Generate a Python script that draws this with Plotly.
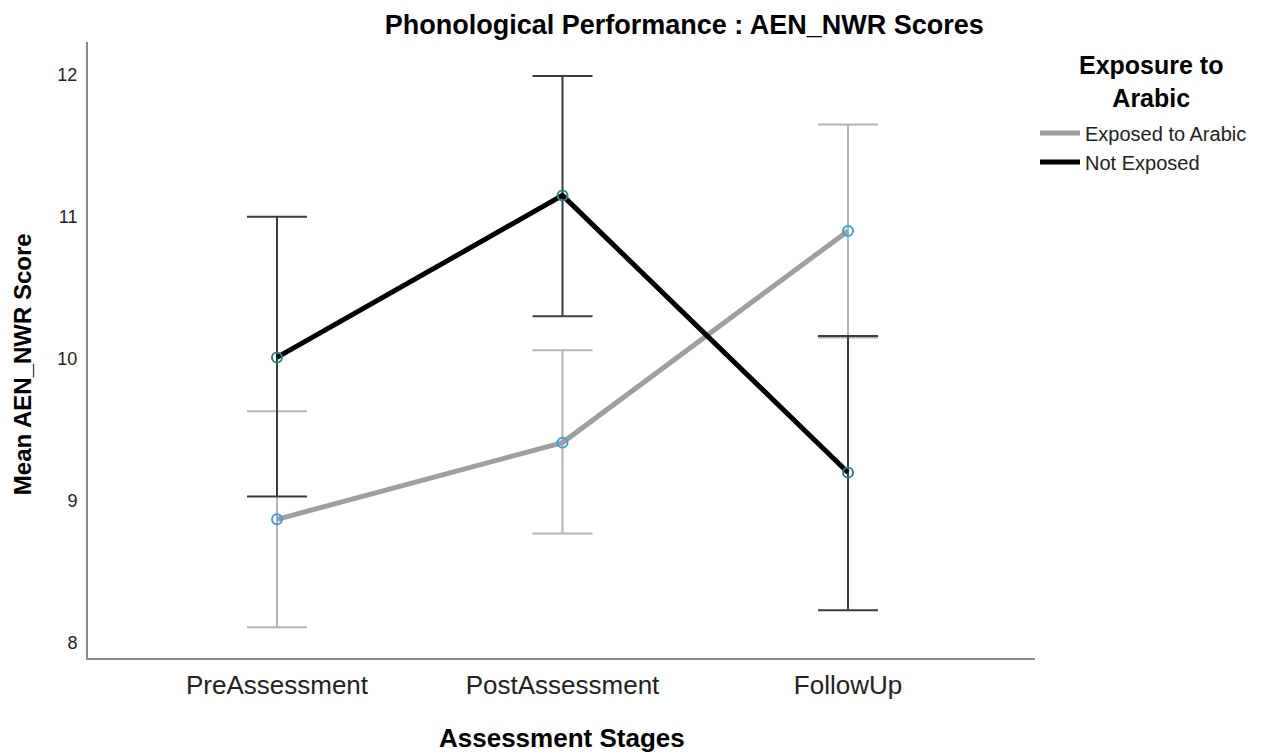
import plotly.graph_objects as go

stages = ["PreAssessment", "PostAssessment", "FollowUp"]

exposed_mean = [8.87, 9.41, 10.90]
exposed_upper = [9.63, 10.06, 11.65]
exposed_lower = [8.11, 8.77, 10.15]

not_exposed_mean = [10.01, 11.15, 9.20]
not_exposed_upper = [11.00, 11.99, 10.16]
not_exposed_lower = [9.03, 10.30, 8.23]

y_ticks = [8, 9, 10, 11, 12]

FONT = "Liberation Sans, Arial, sans-serif"

def errs(mean, upper, lower):
    plus = [u - m for u, m in zip(upper, mean)]
    minus = [m - l for m, l in zip(mean, lower)]
    return plus, minus

series = [
    ("Exposed to Arabic", exposed_mean, exposed_upper, exposed_lower, "#a09e9e", "#b4b4b4", "#3d9fe0"),
    ("Not Exposed", not_exposed_mean, not_exposed_upper, not_exposed_lower, "#000000", "#3c3c3c", "#2e8585"),
]

fig = go.Figure()
for name, mean, up, lo, lcol, ecol, mcol in series:
    p, m = errs(mean, up, lo)
    fig.add_trace(go.Scatter(
        x=stages, y=mean, name=name, mode="lines",
        line=dict(color=lcol, width=5),
        error_y=dict(type="data", symmetric=False, array=p, arrayminus=m,
                     color=ecol, thickness=2, width=30),
    ))
    fig.add_trace(go.Scatter(
        x=stages, y=mean, name=name, mode="markers", showlegend=False,
        marker=dict(symbol="circle-open", size=10, color=mcol, line=dict(width=2, color=mcol)),
    ))

fig.update_layout(
    width=1279, height=754,
    margin=dict(l=88, r=244, t=42, b=96),
    paper_bgcolor="white", plot_bgcolor="white",
    font=dict(family=FONT, color="#000000"),
    title=dict(text="<b>Phonological Performance : AEN_NWR Scores</b>",
               x=0.535, xanchor="center", y=0.967, yanchor="middle",
               font=dict(size=27, family=FONT, color="#000000")),
    legend=dict(
        x=1.0, xanchor="left", y=0.884, yanchor="top",
        font=dict(size=20, family=FONT, color="#222222"),
        bgcolor="rgba(0,0,0,0)", itemwidth=40, tracegroupgap=0,
    ),
    showlegend=True,
    annotations=[
        dict(text="<b>Exposure to<br>Arabic</b>", xref="paper", yref="paper", x=1.1225, y=0.936,
             xanchor="center", yanchor="middle", showarrow=False, align="center",
             font=dict(size=25, family=FONT, color="#000000")),
        dict(text="<b>Assessment Stages</b>", xref="paper", yref="paper", x=0.5, y=-0.1299,
             xanchor="center", yanchor="middle", showarrow=False,
             font=dict(size=26, family=FONT, color="#000000")),
        dict(text="<b>Mean AEN_NWR Score</b>", xref="paper", yref="paper", x=-0.0697, y=0.477,
             xanchor="center", yanchor="middle", showarrow=False, textangle=-90,
             font=dict(size=24, family=FONT, color="#000000")),
    ],
)

fig.update_xaxes(
    type="category", range=[-0.662, 2.655], automargin=False,
    showline=True, linecolor="#8c8c8c", linewidth=2,
    showgrid=False, zeroline=False, ticks="", ticklabelstandoff=3,
    tickfont=dict(size=26, family=FONT, color="#222222"),
)
fig.update_yaxes(
    range=[7.894, 12.23], tickvals=y_ticks, ticktext=[str(t) for t in y_ticks], automargin=False,
    showline=True, linecolor="#8c8c8c", linewidth=2,
    showgrid=False, zeroline=False, ticks="", ticklabelstandoff=5,
    tickfont=dict(size=18, family=FONT, color="#222222"),
)

fig.write_html("out.html", config={"displayModeBar": False},
               post_script="document.body.style.margin='0';")
